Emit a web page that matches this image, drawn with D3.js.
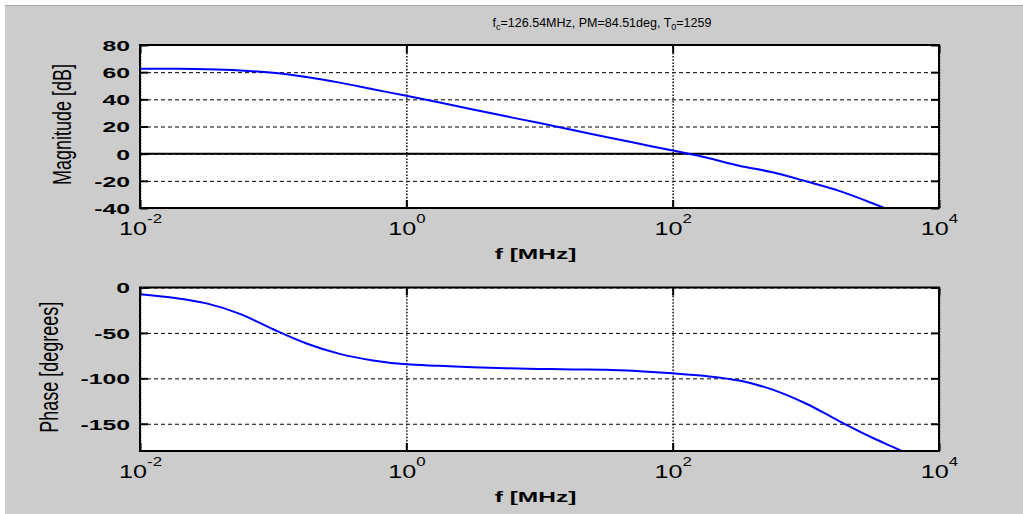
<!DOCTYPE html>
<html>
<head>
<meta charset="utf-8">
<script src="https://cdn.jsdelivr.net/npm/d3@7"></script>
<style>
  body { margin: 0; background: #fff; }
  svg { display: block; }
  text { font-family: "Liberation Sans", Arial, sans-serif; fill: #000; }
</style>
</head>
<body>
<div id="chart"></div>
<script>
// frequency points (MHz)
var freqMHz = [0.01, 0.0178, 0.0316, 0.0562, 0.1, 0.178, 0.316, 0.562, 1, 1.78, 3.16, 5.62,
    10, 17.8, 31.6, 56.2, 100, 178, 316, 562, 1000, 1778, 3162, 5623, 10000];
var magDb = [62.6, 62.5, 62.2, 61.3, 59.5, 56.4, 52.3, 47.4, 42.6, 37.6, 32.5, 27.5,
    22.5, 17.4, 12.3, 7.3, 2.3, -2.8, -8.9, -13.7, -20.3, -27.4, -36.5, -46.5, -57];
var phaseDeg = [-7.3, -11.3, -17.5, -29, -46, -61.6, -73.1, -80.3, -84.6, -86.2, -87.8, -89,
    -89.6, -90.2, -90.6, -92.2, -94.5, -97.5, -102.5, -112.4, -127.7, -147, -165.4, -182, -200];

var xTicks = [0.01, 1, 100, 10000];
var xTickExp = ["-2", "0", "2", "4"];
var magTicks = [-40, -20, 0, 20, 40, 60, 80];
var phaseTicks = [-150, -100, -50, 0];

var titleParts = ["f", "c", "=126.54MHz, PM=84.51deg, T", "0", "=1259"];

var W = 1023, H = 514;
var svg = d3.select("#chart").append("svg")
    .attr("width", W)
    .attr("height", H);

// grey figure background
svg.append("rect")
    .attr("x", 5).attr("y", 5)
    .attr("width", W - 5).attr("height", H - 5)
    .attr("fill", "#cccccc");
svg.append("line")
    .attr("x1", 5).attr("x2", W)
    .attr("y1", 5.5).attr("y2", 5.5)
    .attr("stroke", "#a8a8a8");

// title
var title = svg.append("text")
    .attr("x", 602)
    .attr("y", 27)
    .attr("text-anchor", "middle")
    .attr("font-size", "12.5px");
titleParts.forEach(function(s, i){
    var sub = (i == 1 || i == 3);
    title.append("tspan")
        .attr("font-size", sub ? "9px" : "12.5px")
        .attr("dy", sub ? 3 : (i > 0 ? -3 : 0))
        .text(s);
});

var x = d3.scaleLog().domain([0.01, 10000]).range([0, 799]);

function drawPanel(top, height, yDomain, yTicks, values, yLabel, labelX, zeroLine, id){
    var g = svg.append("g")
        .attr("transform", "translate(140," + top + ")");
    var width = 799;
    var y = d3.scaleLinear().domain(yDomain).range([height, 0]);

    g.append("rect")
        .attr("width", width).attr("height", height)
        .attr("fill", "#fff");

    // horizontal dashed grid
    g.append("g")
        .call(d3.axisLeft(y).tickValues(yTicks).tickSize(-width).tickFormat(""))
        .call(function(a){
            a.select(".domain").remove();
            a.selectAll("line")
                .attr("stroke", "#000")
                .attr("stroke-dasharray", "4,3");
        });

    // vertical dotted grid at decades
    g.append("g")
        .attr("transform", "translate(0," + height + ")")
        .call(d3.axisBottom(x).tickValues(xTicks).tickSize(-height).tickFormat(""))
        .call(function(a){
            a.select(".domain").remove();
            a.selectAll("line")
                .attr("stroke", "#222")
                .attr("stroke-width", 1.6)
                .attr("stroke-dasharray", "1.6,1.6");
        });

    if (zeroLine) {
        g.append("line")
            .attr("x1", 0).attr("x2", width)
            .attr("y1", y(0)).attr("y2", y(0))
            .attr("stroke", "#000")
            .attr("stroke-width", 2);
    }

    // curve
    g.append("clipPath").attr("id", id)
        .append("rect").attr("width", width).attr("height", height);
    var line = d3.line()
        .x(function(d, i){ return x(freqMHz[i]); })
        .y(function(d){ return y(d); })
        .curve(d3.curveMonotoneX);
    g.append("path")
        .attr("clip-path", "url(#" + id + ")")
        .attr("fill", "none")
        .attr("stroke", "#0000ff")
        .attr("stroke-width", 2)
        .attr("d", line(values));

    // axes with inward ticks
    var ticks = g.append("g").attr("class", "ticks");
    var yAxis = ticks.append("g")
        .call(d3.axisLeft(y).tickValues(yTicks).tickSizeInner(-8).tickSizeOuter(0).tickPadding(0)
            .tickFormat(function(d){ return String(d); }));
    yAxis.selectAll("text")
        .attr("font-size", "15px")
        .attr("font-weight", "bold")
        .attr("font-family", "Liberation Sans, Arial, sans-serif")
        .attr("transform", "scale(1.65,1)")
        .attr("x", -10 / 1.65)
        .attr("dy", "0.36em");
    ticks.append("g")
        .attr("transform", "translate(" + width + ",0)")
        .call(d3.axisRight(y).tickValues(yTicks).tickSizeInner(-8).tickSizeOuter(0).tickFormat(""));
    ticks.append("g")
        .call(d3.axisTop(x).tickValues(xTicks).tickSizeInner(-8).tickSizeOuter(0).tickFormat(""));
    var xAxis = ticks.append("g")
        .attr("transform", "translate(0," + height + ")")
        .call(d3.axisBottom(x).tickValues(xTicks).tickSizeInner(-8).tickSizeOuter(0).tickFormat(""));
    xAxis.selectAll(".tick").each(function(d, i){
        var t = d3.select(this).append("text")
            .attr("transform", "translate(0,27) scale(1.4,1)")
            .attr("text-anchor", "middle")
            .attr("font-size", "18px");
        t.append("tspan").text("10");
        t.append("tspan").attr("dy", -12).attr("font-size", "12px").text(xTickExp[i]);
    });
    ticks.selectAll(".domain").remove();
    ticks.selectAll(".tick line").attr("stroke-width", 2);

    // box
    g.append("rect")
        .attr("width", width).attr("height", height)
        .attr("fill", "none")
        .attr("stroke", "#000")
        .attr("stroke-width", 2);

    // labels
    g.append("text")
        .attr("transform", "translate(" + (width / 2 - 4) + "," + (height + 51) + ") scale(1.75,1)")
        .attr("text-anchor", "middle")
        .attr("font-size", "14px")
        .attr("font-weight", "bold")
        .text("f [MHz]");
    g.append("text")
        .attr("transform", "translate(" + (labelX - 140) + "," + (height / 2 - 2) + ") scale(1.4,1) rotate(-90)")
        .attr("text-anchor", "middle")
        .attr("font-size", "18px")
        .text(yLabel);
}

drawPanel(45, 163, [-40, 80], magTicks, magDb, "Magnitude [dB]", 71, true, "clipMag");
drawPanel(287.5, 163.5, [-180, 0], phaseTicks, phaseDeg, "Phase [degrees]", 58, false, "clipPhase");
</script>
</body>
</html>
